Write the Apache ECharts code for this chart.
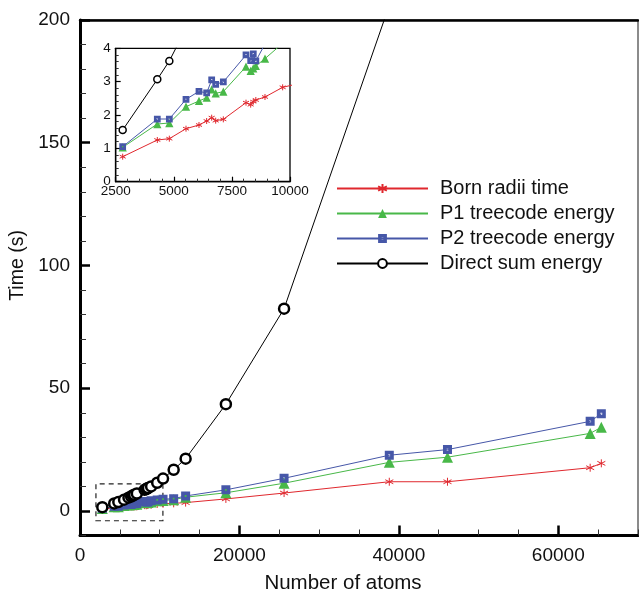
<!DOCTYPE html>
<html>
<head>
<meta charset="utf-8">
<script src="https://cdn.jsdelivr.net/npm/echarts@6/dist/echarts.min.js"></script>
<style>
  html, body { margin: 0; padding: 0; background: #fff; }
  #chart { width: 639px; height: 593px; }
</style>
</head>
<body>
<div id="chart"></div>
<script>
// number of atoms per test molecule
var atoms = [2800, 4290, 4808, 5525, 6084, 6414, 6630, 6802, 7131, 8107, 8308, 8420, 8530, 8924, 9684,
  10417, 11750, 13250, 18300, 25600, 38800, 46100, 64000, 65400];
// timings (s)
var bornTime = [0.75, 1.25, 1.29, 1.59, 1.70, 1.82, 1.92, 1.83, 1.87, 2.37, 2.31, 2.40, 2.45, 2.54, 2.83,
  2.95, 3.1, 3.4, 4.9, 7.3, 11.9, 11.9, 17.6, 19.4];
var p1Energy = [1.03, 1.73, 1.76, 2.25, 2.42, 2.52, 2.77, 2.65, 2.70, 3.45, 3.32, 3.40, 3.47, 3.69, 4.15,
  4.3, 4.6, 5.6, 7.4, 11.3, 19.8, 21.9, 31.6, 34.1];
var p2Energy = [1.05, 1.88, 1.88, 2.47, 2.71, 2.66, 3.05, 2.92, 2.99, 3.80, 3.63, 3.83, 3.62, 4.13, 4.5,
  4.8, 5.0, 6.1, 8.6, 13.3, 22.7, 25.0, 36.5, 39.6];
var directEnergy = [1.55, 3.07, 3.62, 4.6, 5.4, 5.9, 6.3, 6.6, 7.1, 8.6, 8.9, 9.1, 9.3, 10.0, 11.5,
  13.2, 16.8, 21.3, 43.5, 82.4, 206, null, null, null];

var names = ['Born radii time', 'P1 treecode energy', 'P2 treecode energy', 'Direct sum energy'];

// dashed zoom box drawn on the main plot [x0, x1, y0, y1]
var zoomBox = [2000, 10400, -4, 11];

var FONT = 'Liberation Sans';
var colors = ['#e0282e', '#48b848', '#4657a8', '#000000'];

var asterisk = 'path://M5,0L5,10M0.7,2.5L9.3,7.5M0.7,7.5L9.3,2.5';
var holeSquare = 'path://M0,0H10V10H0Z M4,4V6H6V4Z';

function pairs(ys) {
  var out = [];
  for (var i = 0; i < atoms.length; i++) {
    if (ys[i] !== null) out.push([atoms[i], ys[i]]);
  }
  return out;
}
function plain(v) { return String(v); }

function makeSeries(small) {
  var k = small ? 0.75 : 1;
  var list = [
    { name: names[0], type: 'line', data: pairs(bornTime), symbol: asterisk, symbolSize: 8 * k,
      lineStyle: { color: colors[0], width: 1 },
      itemStyle: { color: 'rgba(0,0,0,0)', borderColor: colors[0], borderWidth: 1 } },
    { name: names[1], type: 'line', data: pairs(p1Energy), symbol: 'triangle', symbolSize: 11 * k,
      lineStyle: { color: colors[1], width: 1 },
      itemStyle: { color: colors[1], borderColor: colors[1], borderWidth: 0 } },
    { name: names[2], type: 'line', data: pairs(p2Energy), symbol: holeSquare, symbolSize: 9 * k,
      lineStyle: { color: colors[2], width: 1 },
      itemStyle: { color: colors[2], borderColor: colors[2], borderWidth: 0 } },
    { name: names[3], type: 'line', data: pairs(directEnergy), symbol: 'circle', symbolSize: small ? 7 : 10,
      lineStyle: { color: colors[3], width: 1 },
      itemStyle: { color: '#fff', borderColor: colors[3], borderWidth: small ? 1.5 : 2.5 } }
  ];
  list.forEach(function (s) {
    s.xAxisIndex = small ? 2 : 0;
    s.yAxisIndex = small ? 1 : 0;
    s.showSymbol = true;
    s.clip = true;
    s.z = small ? 12 : 2;
    s.emphasis = { disabled: true };
  });
  if (!small) {
    list[3].markArea = {
      silent: true,
      itemStyle: { color: 'rgba(0,0,0,0)', borderColor: '#222', borderType: [5, 4], borderWidth: 1.2 },
      data: [[{ xAxis: zoomBox[0], yAxis: zoomBox[2] }, { xAxis: zoomBox[1], yAxis: zoomBox[3] }]]
    };
  }
  return list;
}

var hiddenAxis = function (grid) {
  return { gridIndex: grid, type: 'value', show: false, min: 0, max: 1 };
};

var chart = echarts.init(document.getElementById('chart'));

var option = {
  animation: false,
  backgroundColor: '#fff',
  textStyle: { fontFamily: FONT },
  grid: [
    // 0: main plot (x 0..70000, y -10..200)
    { left: 80, right: 1, top: 20, bottom: 57.5, show: true, borderColor: '#666', borderWidth: 1.5,
      backgroundColor: 'rgba(0,0,0,0)', outerBoundsMode: 'none', containLabel: false },
    // 1: inset
    { left: 115.7, width: 174.3, top: 48.3, height: 133.4, show: true, borderColor: '#000', borderWidth: 1.3,
      backgroundColor: '#fff', z: 10, outerBoundsMode: 'none', containLabel: false },
    // 2: same y scale as main, but from 0 to 200 (major y ticks)
    { left: 80, right: 1, top: 20, bottom: 82.05, show: false, outerBoundsMode: 'none', containLabel: false },
    // 3: same x scale as main, but from 0 to 60000 (major x ticks)
    { left: 80, right: 80.71, top: 20, bottom: 57.5, show: false, outerBoundsMode: 'none', containLabel: false }
  ],
  xAxis: [
    { gridIndex: 0, type: 'value', position: 'bottom', min: 0, max: 70000, interval: 5000,
      name: 'Number of atoms', nameLocation: 'middle', nameGap: 37,
      nameTextStyle: { fontSize: 20.5, color: '#111', fontFamily: FONT, padding: [0, 32, 0, 0] },
      axisLine: { onZero: false, lineStyle: { color: '#000', width: 3 } },
      axisTick: { inside: true, length: 6, lineStyle: { color: '#333', width: 1 } },
      axisLabel: { show: false }, splitLine: { show: false } },
    { gridIndex: 0, type: 'value', position: 'top', min: 0, max: 70000,
      axisLine: { onZero: false, lineStyle: { color: '#000', width: 2.5 } },
      axisTick: { show: false }, axisLabel: { show: false }, splitLine: { show: false } },
    { gridIndex: 1, type: 'value', position: 'bottom', min: 2500, max: 10000, interval: 2500,
      axisLine: { onZero: false, lineStyle: { color: '#000', width: 1.3 } },
      axisTick: { inside: true, length: 5, lineStyle: { color: '#000', width: 1.2 } },
      minorTick: { show: true, splitNumber: 5, length: 3, lineStyle: { color: '#333', width: 1 } },
      axisLabel: { fontSize: 13.5, color: '#111', margin: 3, fontFamily: FONT, formatter: plain },
      splitLine: { show: false }, z: 11 },
    hiddenAxis(2),
    { gridIndex: 3, type: 'value', position: 'bottom', min: 0, max: 60000, interval: 20000,
      axisLine: { show: false, onZero: false },
      axisTick: { inside: true, length: 10, lineStyle: { color: '#000', width: 2.5 } },
      axisLabel: { fontSize: 19, color: '#111', margin: 11, fontFamily: FONT, formatter: plain },
      splitLine: { show: false } }
  ],
  yAxis: [
    { gridIndex: 0, type: 'value', position: 'left', min: -10, max: 200, interval: 10,
      axisLine: { onZero: false, lineStyle: { color: '#000', width: 3 } },
      axisTick: { inside: true, length: 6, lineStyle: { color: '#333', width: 1 } },
      axisLabel: { show: false }, splitLine: { show: false } },
    { gridIndex: 1, type: 'value', position: 'left', min: 0, max: 4, interval: 1,
      axisLine: { onZero: false, lineStyle: { color: '#000', width: 1.3 } },
      axisTick: { inside: true, length: 5, lineStyle: { color: '#000', width: 1.2 } },
      minorTick: { show: true, splitNumber: 5, length: 3, lineStyle: { color: '#333', width: 1 } },
      axisLabel: { fontSize: 13.5, color: '#111', margin: 5, fontFamily: FONT, formatter: plain },
      splitLine: { show: false }, z: 11 },
    { gridIndex: 2, type: 'value', position: 'left', min: 0, max: 200, interval: 50,
      name: 'Time (s)', nameLocation: 'middle', nameGap: 52,
      nameTextStyle: { fontSize: 19.5, color: '#111', fontFamily: FONT },
      axisLine: { show: false, onZero: false },
      axisTick: { inside: true, length: 10, lineStyle: { color: '#000', width: 2.5 } },
      axisLabel: { fontSize: 19, color: '#111', margin: 10, fontFamily: FONT, formatter: plain },
      splitLine: { show: false } },
    hiddenAxis(3)
  ],
  legend: {
    orient: 'vertical', left: 331, top: 173.5,
    data: names, itemWidth: 91, itemHeight: 11, itemGap: 5,
    selectedMode: false,
    textStyle: { fontSize: 20, color: '#111', lineHeight: 20, padding: [0, 0, 0, 7], fontFamily: FONT }
  },
  series: makeSeries(false).concat(makeSeries(true))
};

chart.setOption(option);
</script>
</body>
</html>
